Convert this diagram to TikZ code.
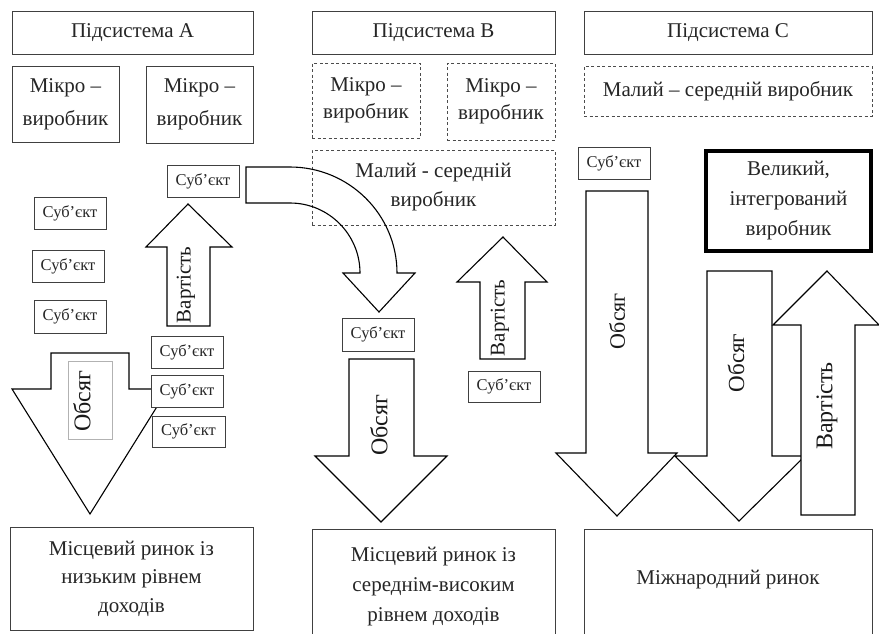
\documentclass[tikz,border=0pt]{standalone}
\usepackage{fontspec}
\setmainfont{Liberation Serif}
\begin{document}
\begin{tikzpicture}[x=1pt,y=-1pt,
  rect/.style n args={4}{minimum width={(#3-#1)*1pt}, minimum height={(#4-#2)*1pt},
    at={({(#1+#3)/2},{(#2+#4)/2})}},
  frame/.style={draw=black!75, line width=0.9pt, fill=white, inner sep=0pt,
    align=center, text=black!85, font=\fontsize{21}{28}\selectfont},
  dframe/.style={frame, draw=black!70, dash pattern=on 3pt off 2.5pt},
  subj/.style={frame, font=\fontsize{16.5}{20}\selectfont},
  thickframe/.style={frame, draw=black, line width=3.2pt},
  arrowbody/.style={draw=black, line width=1.1pt, fill=white, line join=miter},
  arrowtext/.style={rotate=90, inner sep=0pt, text=black!90},
]
\useasboundingbox[fill=white] (0,0) rectangle (879,633);
\clip (0,0) rectangle (879,633);

% ---------- column A ----------
\node[frame, rect={12}{11}{253}{54}] (subA) {Підсистема А};
\node[frame, font=\fontsize{21}{33}\selectfont, rect={12}{66}{119}{142}] (mA1) {Мікро –\\виробник};
\node[frame, font=\fontsize{21}{33}\selectfont, rect={146}{66}{253}{143}] (mA2) {Мікро –\\виробник};

% volume arrow of the local producers
\draw[arrowbody] (51,353) -- (129,353) -- (129,389) -- (168,389) -- (90,514)
  -- (12,389) -- (51,389) -- cycle;
\node[draw=black!30, line width=0.6pt, inner sep=0pt, rect={68}{361}{112}{439}] (volAframe) {};
\node[arrowtext, font=\fontsize{24}{24}\selectfont] (volA) at (82,401) {Обсяг};

% value arrow of the local producers
\draw[arrowbody] (167,326) -- (167,247) -- (146,247) -- (188,204) -- (232,247)
  -- (210,247) -- (210,326) -- cycle;
\node[arrowtext, font=\fontsize{21}{21}\selectfont] (valA) at (186,285) {Вартість};

\node[subj, rect={167}{165}{239}{197}] (sA0) {Суб’єкт};
\node[subj, rect={34}{197}{106}{229}] (sA1) {Суб’єкт};
\node[subj, rect={32}{250}{104}{282}] (sA2) {Суб’єкт};
\node[subj, rect={34}{300}{106}{333}] (sA3) {Суб’єкт};
\node[subj, rect={151}{336}{223}{368}] (sA4) {Суб’єкт};
\node[subj, rect={151}{375}{223}{407}] (sA5) {Суб’єкт};
\node[subj, rect={152}{416}{225}{447}] (sA6) {Суб’єкт};

\node[frame, font=\fontsize{21}{28.5}\selectfont, rect={10}{527}{253}{630}] (mkA)
  {Місцевий ринок із\\низьким рівнем\\доходів};

% ---------- column B ----------
\node[frame, rect={312}{11}{555}{54}] (subB) {Підсистема B};
\node[dframe, font=\fontsize{21}{27}\selectfont, rect={312}{63}{420}{138}] (mB1) {Мікро –\\виробник};
\node[dframe, font=\fontsize{21}{27}\selectfont, rect={447}{63}{555}{140}] (mB2) {Мікро –\\виробник};
\node[dframe, font=\fontsize{21}{29}\selectfont, rect={312}{150}{555}{225}] (smB) {Малий - середній\\виробник};

% bent arrow from the subject of column A into column B
\coordinate (bendStart) at (246,167);
\draw[draw=black, line width=1.1pt, line join=miter]
  (bendStart) -- (290,167) .. controls (349,167) and (397,214.5) .. (397,273)
  -- (415,273) -- (379,312) -- (343,273) -- (360,273)
  .. controls (360,234.4) and (328.6,203) .. (290,203)
  -- (246,203) -- cycle;

\node[subj, rect={342}{318}{414}{351}] (sB1) {Суб’єкт};
\draw[arrowbody] (349,359) -- (414,359) -- (414,456) -- (447,456) -- (381,522)
  -- (315,456) -- (349,456) -- cycle;
\node[arrowtext, font=\fontsize{24}{24}\selectfont] (volB) at (379,425) {Обсяг};

\draw[arrowbody] (480,359) -- (480,282) -- (457,282) -- (503,237) -- (547,282)
  -- (525,282) -- (525,359) -- cycle;
\node[arrowtext, font=\fontsize{21}{21}\selectfont] (valB) at (500,318) {Вартість};
\node[subj, rect={468}{371}{540}{402}] (sB2) {Суб’єкт};

\node[frame, rect={312}{529}{555}{645}] (mkB) {};
\node[align=center, text=black!85, font=\fontsize{21}{30}\selectfont] (mkBtext) at (433.5,587)
  {Місцевий ринок із\\середнім-високим\\рівнем доходів};

% ---------- column C ----------
\node[frame, rect={584}{11}{872}{54}] (subC) {Підсистема C};
\node[dframe, rect={584}{66}{872}{116}] (smC) {Малий – середній виробник};
\node[subj, rect={578}{147}{650}{179}] (sC) {Суб’єкт};
\node[thickframe, font=\fontsize{21}{30}\selectfont, rect={706}{151}{871}{251}] (bigC)
  {Великий,\\інтегрований\\виробник};

\draw[arrowbody] (586,191) -- (648,191) -- (648,453) -- (677,453) -- (617,516)
  -- (556,453) -- (586,453) -- cycle;
\node[arrowtext, font=\fontsize{22}{22}\selectfont] (volC1) at (617,321) {Обсяг};

\draw[arrowbody] (707,271) -- (772,271) -- (772,456) -- (805,456) -- (739,521)
  -- (675,456) -- (707,456) -- cycle;
\node[arrowtext, font=\fontsize{23}{23}\selectfont] (volC2) at (736,363) {Обсяг};

\draw[arrowbody] (801,515) -- (801,325) -- (773,325) -- (827,271) -- (879,325)
  -- (855,325) -- (855,515) -- cycle;
\node[arrowtext, font=\fontsize{24}{24}\selectfont] (valC) at (827,406) {Вартість};

\node[frame, rect={584}{529}{872}{645}] (mkC) {};
\node[text=black!85, font=\fontsize{21}{28}\selectfont] (mkCtext) at (728,580) {Міжнародний ринок};
\end{tikzpicture}
\end{document}
